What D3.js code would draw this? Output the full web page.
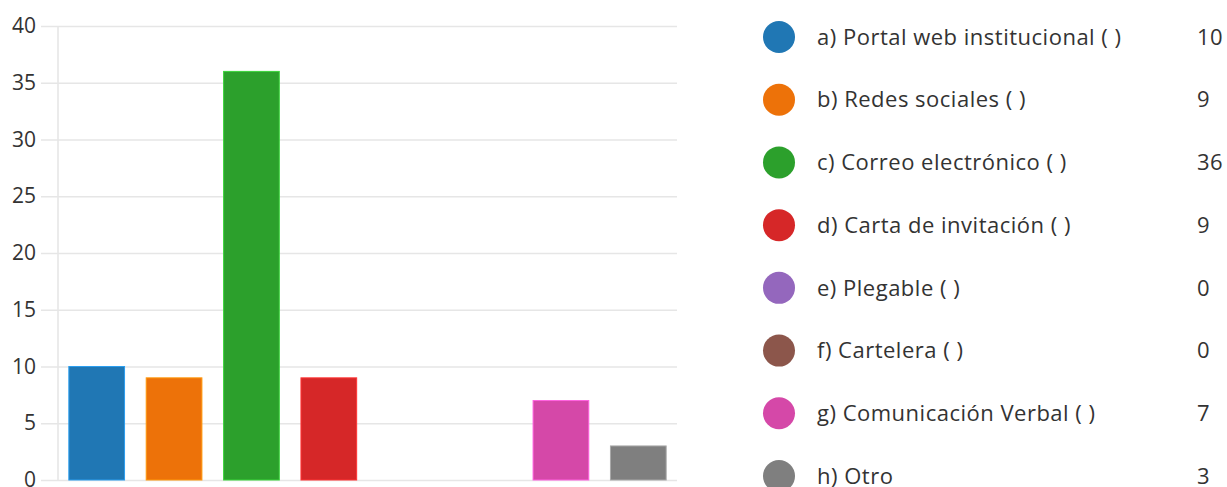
<!DOCTYPE html>
<html><head><meta charset="utf-8">
<script src="https://cdn.jsdelivr.net/npm/d3@7"></script>
<style>body{margin:0;background:#fff;overflow:hidden}svg{display:block;font-family:"Open Sans","Noto Sans",sans-serif}</style>
</head><body><svg id="c" width="1227" height="487"></svg>
<script>
const categories = ["a) Portal web institucional ( )","b) Redes sociales ( )","c) Correo electrónico ( )","d) Carta de invitación ( )","e) Plegable ( )","f) Cartelera ( )","g) Comunicación Verbal ( )","h) Otro"];
const values = [10, 9, 36, 9, 0, 0, 7, 3];
const colors = ["#2077b4","#ed7209","#2ca02c","#d62728","#9467bd","#8c564b","#d548a8","#7f7f7f"];
const yTicks = [0,5,10,15,20,25,30,35,40];

const svg = d3.select("#c");
const x = d3.scaleBand().domain(categories).range([58,677]).paddingInner(0.28).paddingOuter(0.14);
const y = d3.scaleLinear().domain([0,40]).range([480,26]);

// gridlines
const yAxis = d3.axisLeft(y).tickValues(yTicks).tickSize(-(677-41)).tickPadding(6);
const g = svg.append("g").attr("transform","translate(41,0)").call(yAxis);
g.select(".domain").remove();
g.selectAll(".tick line").attr("stroke","#e6e6e6").attr("stroke-width",1.6);
g.selectAll(".tick text").attr("fill","#333").style("font-size","21px").attr("x",-5).attr("font-family","'Open Sans',sans-serif");

svg.append("line").attr("x1",58).attr("x2",58).attr("y1",y(40)).attr("y2",y(0)).attr("stroke","#e6e6e6").attr("stroke-width",1.6);

svg.append("g").selectAll("rect").data(values).join("rect")
  .attr("x",(d,i)=>x(categories[i]))
  .attr("y",d=>y(d))
  .attr("width",x.bandwidth())
  .attr("height",d=>y(0)-y(d))
  .attr("fill",(d,i)=>colors[i])
  .attr("stroke",(d,i)=>d3.color(colors[i]).brighter(0.8))
  .attr("stroke-width",d=>d>0?1:0);

// legend
const ly = d3.scalePoint().domain(categories).range([37,476]);
const lg = svg.append("g").selectAll("g").data(categories).join("g")
  .attr("transform",d=>`translate(0,${ly(d)})`);
lg.append("circle").attr("cx",779).attr("cy",0).attr("r",16).attr("fill",(d,i)=>colors[i]);
lg.append("text").attr("x",817).attr("y",0).attr("dy","0.35em").attr("fill","#333").style("font-size","22px").style("letter-spacing","0.5px").text(d=>d);
lg.append("text").attr("x",1197).attr("y",0).attr("dy","0.35em").attr("fill","#333").style("font-size","22px").style("letter-spacing","0.5px").text((d,i)=>values[i]);
</script></body></html>
